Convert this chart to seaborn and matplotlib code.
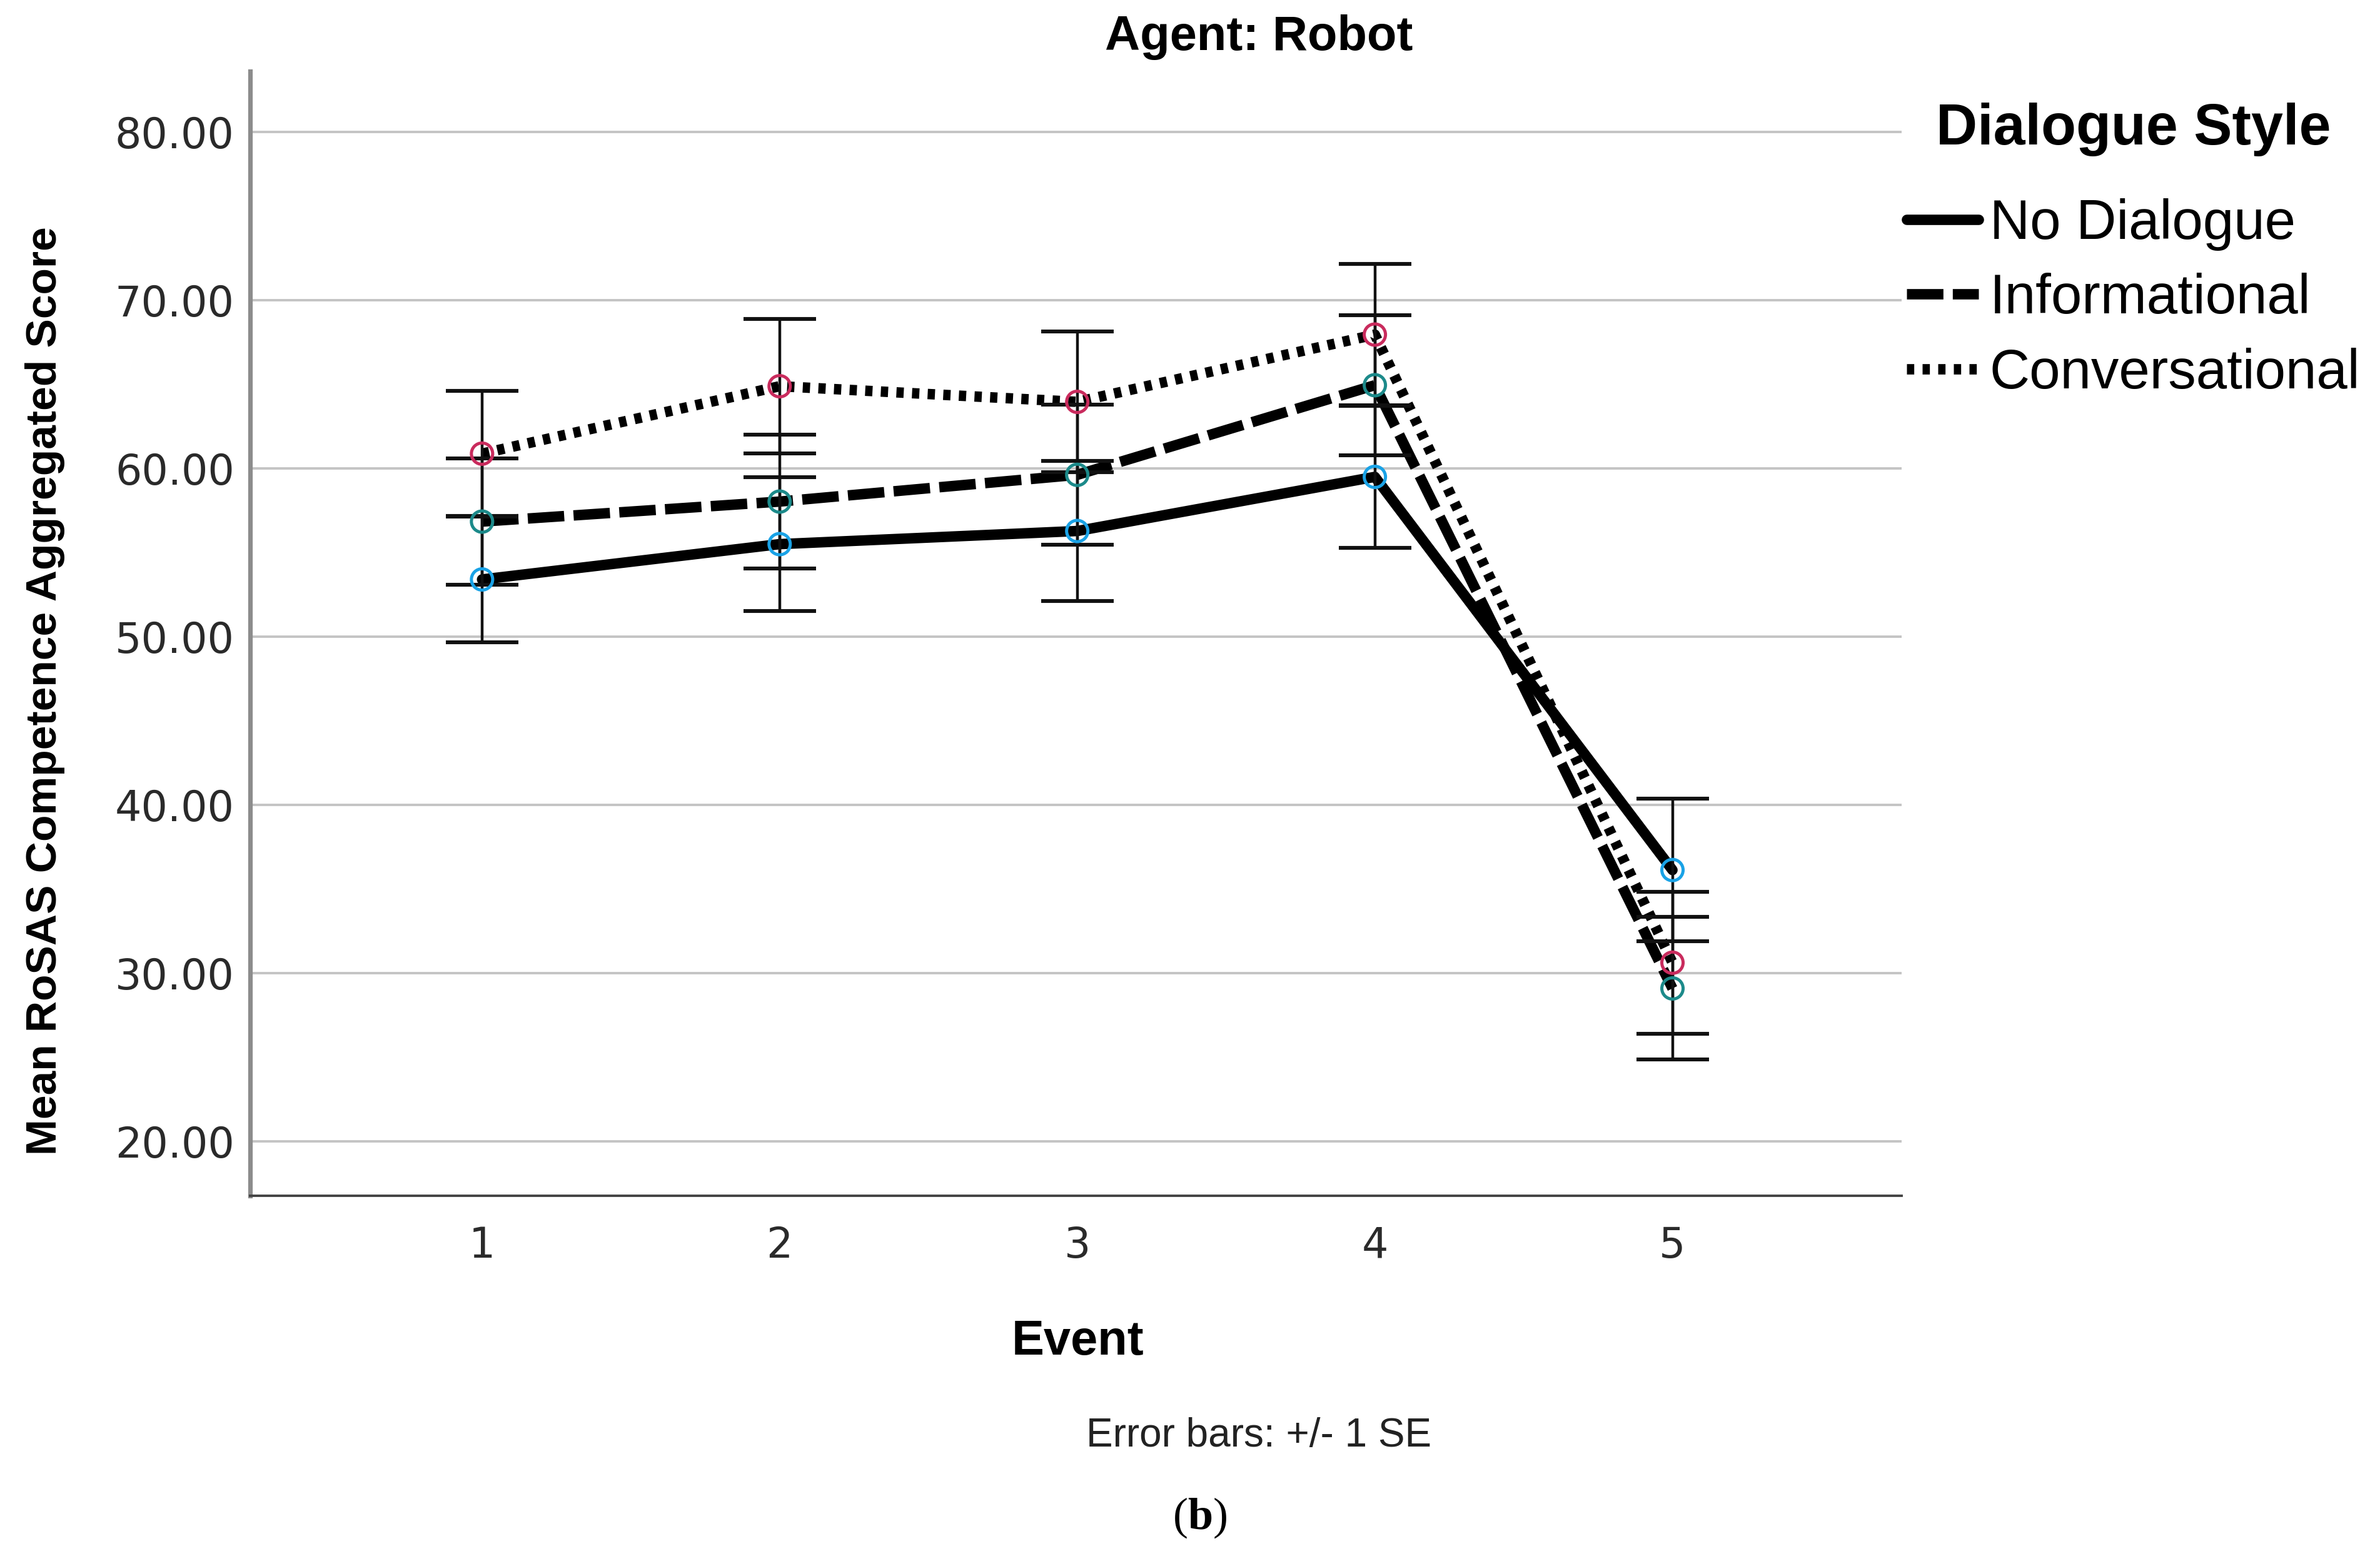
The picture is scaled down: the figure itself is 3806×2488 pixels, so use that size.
import pandas as pd
import seaborn as sns
import matplotlib.pyplot as plt
from matplotlib.lines import Line2D

# values (means and +/- 1 SE)
events = [1, 2, 3, 4, 5]
styles = ['No Dialogue', 'Informational', 'Conversational']
no_dialogue = [53.40, 55.50, 56.28, 59.50, 36.12]
no_dialogue_se = [3.75, 3.99, 4.16, 4.22, 4.25]
informational = [56.84, 58.03, 59.62, 64.95, 29.08]
informational_se = [3.77, 3.99, 4.17, 4.18, 4.24]
conversational = [60.88, 64.89, 63.96, 67.96, 30.61]
conversational_se = [3.72, 4.00, 4.19, 4.22, 4.23]
y_ticks = [20, 30, 40, 50, 60, 70, 80]

df = pd.DataFrame({
    'Event': events * 3,
    'Score': no_dialogue + informational + conversational,
    'SE': no_dialogue_se + informational_se + conversational_se,
    'Dialogue Style': [s for s in styles for _ in events],
})

sns.set_style('white')
plt.rcParams['font.family'] = ['Liberation Sans', 'DejaVu Sans']
plt.rcParams['text.color'] = 'black'
plt.rcParams['mathtext.fontset'] = 'custom'
plt.rcParams['mathtext.rm'] = 'Liberation Serif'
plt.rcParams['mathtext.bf'] = 'Liberation Serif:bold'

fig = plt.figure(figsize=(19.03, 12.44), dpi=200)
ax = fig.add_axes([0.105, 0.2315, 0.694, 0.7225])

dashes = {'No Dialogue': '', 'Informational': (3.5, 0.9), 'Conversational': (0.7, 0.8)}
marker_colors = {'No Dialogue': '#19a2e6', 'Informational': '#1c8a8a', 'Conversational': '#c92b5d'}

sns.lineplot(data=df, x='Event', y='Score', style='Dialogue Style', dashes=dashes,
             color='black', linewidth=6, errorbar=None, legend=False, ax=ax, zorder=2)

for s in styles:
    sub = df[df['Dialogue Style'] == s]
    ax.errorbar(sub['Event'], sub['Score'], yerr=sub['SE'], fmt='none', ecolor='#111111',
                elinewidth=1.6, capsize=21, capthick=2.2, zorder=3)

sns.scatterplot(data=df, x='Event', y='Score', hue='Dialogue Style', palette=marker_colors,
                s=150, legend=False, ax=ax, zorder=4)
pts = ax.collections[-1]
pts.set_edgecolors(pts.get_facecolors())
pts.set_facecolors('none')
pts.set_linewidths(1.8)

ax.set_xlim(0.22, 5.77)
ax.set_ylim(16.75, 83.6)
ax.set_xticks(events)
ax.set_yticks(y_ticks)
ax.set_yticklabels([f'{v:.2f}' for v in y_ticks])
ax.tick_params(axis='both', length=0, labelsize=24, colors='#2a2a2a')
ax.tick_params(axis='x', pad=17)
ax.tick_params(axis='y', pad=9)
for lab in ax.get_xticklabels() + ax.get_yticklabels():
    lab.set_fontfamily('DejaVu Sans')
ax.yaxis.grid(True, color='#c4c4c4', linewidth=1.4)
ax.xaxis.grid(False)
ax.set_axisbelow(True)
ax.set_xlabel('')
ax.set_ylabel('')
sns.despine(ax=ax)
ax.spines['left'].set_color('#8c8c8c')
ax.spines['left'].set_linewidth(2.6)
ax.spines['bottom'].set_color('#444444')
ax.spines['bottom'].set_linewidth(1.4)

fig.text(0.529, 0.976, 'Agent: Robot', ha='center', va='center', fontsize=28, fontweight='bold')
fig.text(0.019, 0.556, 'Mean RoSAS Competence Aggregated Score', rotation=90, ha='center', va='center',
         fontsize=25, fontweight='bold')
fig.text(0.453, 0.1376, 'Event', ha='center', va='center', fontsize=28, fontweight='bold')
fig.text(0.529, 0.077, 'Error bars: +/- 1 SE', ha='center', va='center', fontsize=23, color='#222222')
fig.text(0.504, 0.0244, r'$\mathrm{(}\mathbf{b}\mathrm{)}$', ha='center', va='center', fontsize=26)

handles = [Line2D([0], [0], color='black', linewidth=6, dashes=dashes[s] if dashes[s] else (None, None))
           for s in styles]
handles[0].set_linestyle('-')
leg = fig.legend(handles, styles, title='Dialogue Style', loc='upper left',
                 bbox_to_anchor=(0.801, 0.934), frameon=False, fontsize=32,
                 handlelength=1.3, handletextpad=0.2, labelspacing=0.4,
                 borderpad=0, borderaxespad=0)
leg.get_title().set_fontsize(33)
leg.get_title().set_fontweight('bold')
leg._legend_box.sep = 24

fig.savefig('out.png', dpi=200)
